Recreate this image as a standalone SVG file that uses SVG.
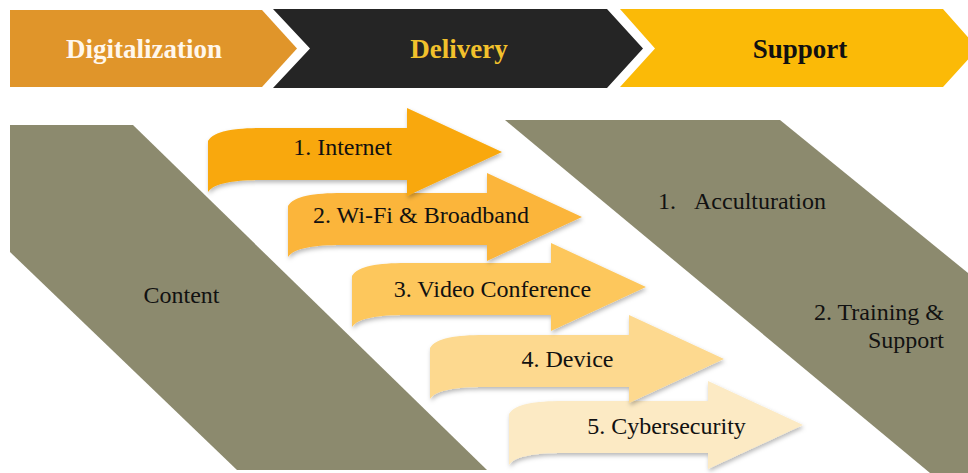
<svg xmlns="http://www.w3.org/2000/svg" width="968" height="473" viewBox="0 0 968 473">
  <style>
    .hdr { font-family: 'Liberation Serif', 'DejaVu Serif', serif; font-weight: bold; font-size: 27px; text-anchor: middle; }
    .lbl { font-family: 'Liberation Serif', 'DejaVu Serif', serif; font-size: 24px; fill: #111; }
    .mid { text-anchor: middle; }
    .gray { fill: #8C8A6E; }
  </style>
  <defs>
    <filter id="sh" x="-10%" y="-20%" width="130%" height="150%">
      <feDropShadow dx="1" dy="2.5" stdDeviation="2" flood-color="#000" flood-opacity="0.28"/>
    </filter>
    <path id="arr" d="M -294,-11 C -288,-21 -268,-24 -240,-24 L -95,-24 L -95,-44 L 0,0 L -95,44 L -95,28 L -240,28 C -268,28 -288,31 -294,40 Z"/>
  </defs>
  <rect width="968" height="473" fill="#ffffff"/>

  <g id="stage-digitalization">
    <polygon points="10,10 262,10 297,48.5 262,87 10,87" fill="#E0952A"/>
    <text class="hdr" x="144" y="58" fill="#FFF7EC">Digitalization</text>
  </g>
  <g id="stage-delivery">
    <polygon points="273,9 607,9 643,48.5 607,88 273,88 310,48.5" fill="#252525"/>
    <text class="hdr" x="459" y="58" fill="#F2C12C">Delivery</text>
  </g>
  <g id="stage-support">
    <polygon points="620,9 943,9 978,48.5 943,87 620,87 655,48.5" fill="#FBBA07"/>
    <text class="hdr" x="800" y="58" fill="#111">Support</text>
  </g>

  <g id="content">
    <polygon class="gray" points="10,125 133,125 487,470 237,470 10,252"/>
    <text class="lbl mid" x="181.5" y="303">Content</text>
  </g>

  <g id="support-items">
    <polygon class="gray" points="505,120 780,120 968,273 968,473 930,473"/>
    <text class="lbl" x="658" y="209">1.</text>
    <text class="lbl" x="694" y="209">Acculturation</text>
    <text class="lbl" x="944" y="320" text-anchor="end">2. Training &amp;</text>
    <text class="lbl" x="944" y="348" text-anchor="end">Support</text>
  </g>

  <g id="connectors">
    <g id="arrow-5">
      <use href="#arr" transform="translate(803,425)" fill="#FCEAC4" filter="url(#sh)"/>
      <text class="lbl mid" x="666.5" y="434">5. Cybersecurity</text>
    </g>
    <g id="arrow-4">
      <use href="#arr" transform="translate(724,359)" fill="#FDD98F" filter="url(#sh)"/>
      <text class="lbl mid" x="567.5" y="367">4. Device</text>
    </g>
    <g id="arrow-3">
      <use href="#arr" transform="translate(646,287)" fill="#FDC75C" filter="url(#sh)"/>
      <text class="lbl mid" x="492.5" y="297">3. Video Conference</text>
    </g>
    <g id="arrow-2">
      <use href="#arr" transform="translate(582,217)" fill="#FBB53A" filter="url(#sh)"/>
      <text class="lbl mid" x="421" y="223">2. Wi-Fi &amp; Broadband</text>
    </g>
    <g id="arrow-1">
      <use href="#arr" transform="translate(502,152)" fill="#F9A80A" filter="url(#sh)"/>
      <text class="lbl mid" x="342.5" y="155">1. Internet</text>
    </g>
  </g>
</svg>
